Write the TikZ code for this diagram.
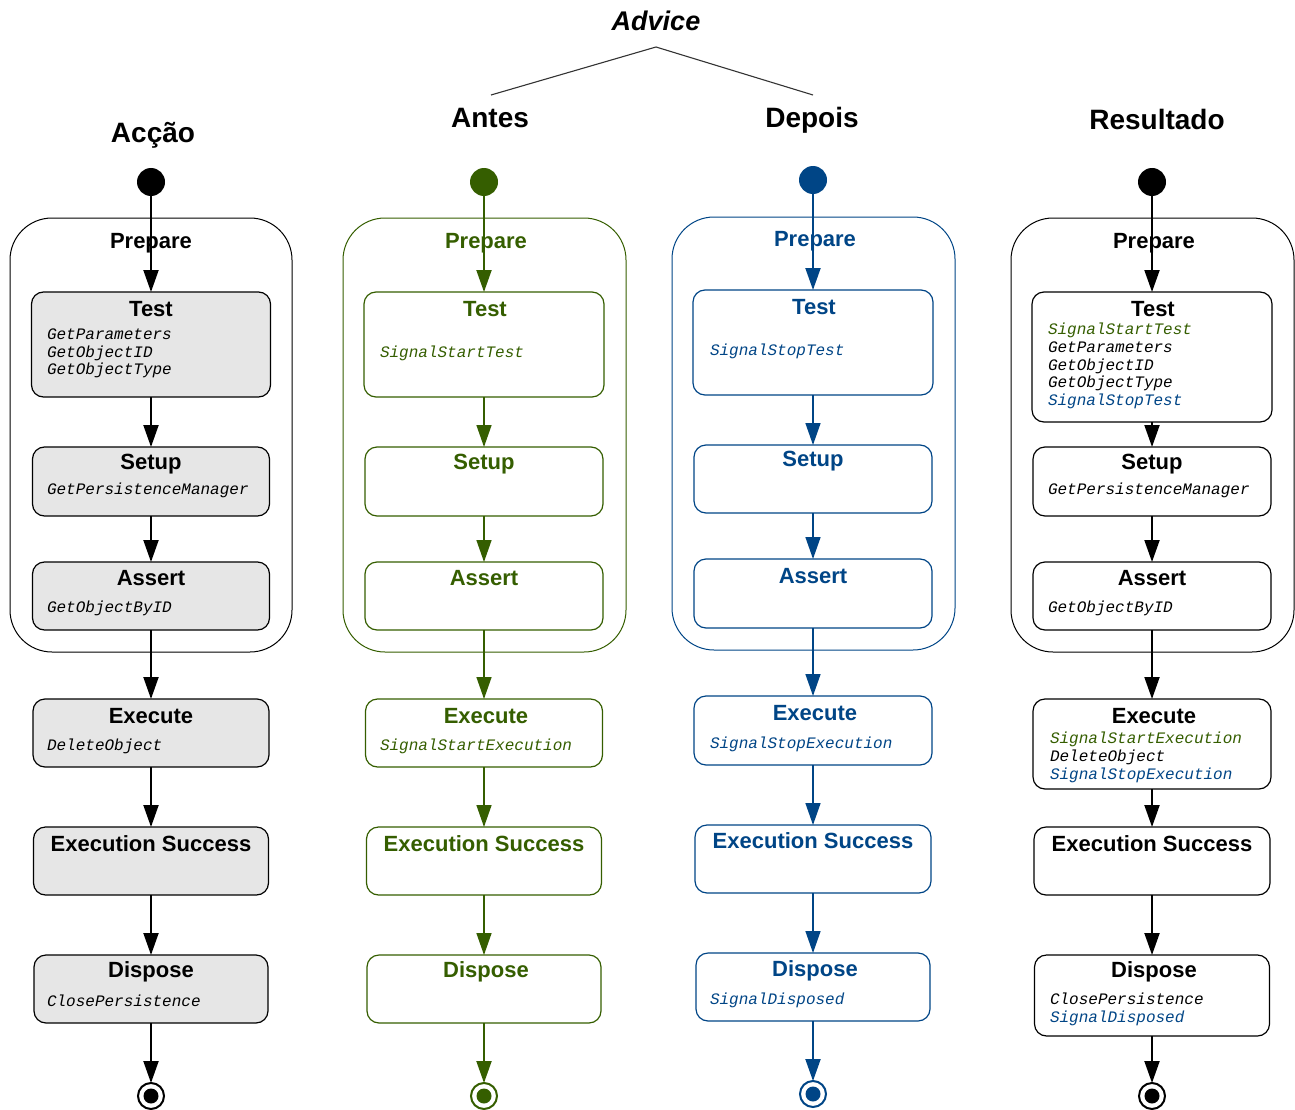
\documentclass[tikz,border=0pt]{standalone}
\usepackage{fontspec}
\setmainfont{Liberation Sans}
\newfontfamily\codefont{Liberation Mono}
\usetikzlibrary{arrows.meta}
\definecolor{advgreen}{HTML}{355E00}
\definecolor{advblue}{HTML}{004586}
\definecolor{boxgray}{HTML}{E6E6E6}

\begin{document}
\begin{tikzpicture}[x=1pt,y=-1pt,
  every node/.style={inner sep=0pt,outer sep=0pt},
  head/.style={font=\fontsize{28}{32}\selectfont\bfseries,anchor=base},
  ttl/.style={font=\fontsize{22}{26}\selectfont\bfseries,anchor=base},
  code/.style={font=\codefont\itshape\fontsize{16}{18}\selectfont,anchor=base west},
  frame/.style={draw=#1,line width=1pt,rounded corners=42pt,rectangle},
  state/.style={draw=#1,line width=1.2pt,rounded corners=12pt,rectangle},
  startdot/.style={circle,fill=#1,minimum size=28pt},
  enddot/.style={circle,draw=#1,fill=white,line width=2pt,minimum size=26pt,
    path picture={\fill[#1] (path picture bounding box.center) circle (7.5pt);}},
  flow/.style={draw=#1,line width=2pt,-{Triangle[length=22pt,width=15pt]}},
]
\useasboundingbox (0,0) rectangle (1295,1110);

% ---------- header ----------
\node[font=\fontsize{27}{32}\selectfont\bfseries\itshape,anchor=base] (advice) at (656,31) {Advice};
\coordinate (adv-root) at (656,47);
\coordinate (adv-left) at (491,95);
\coordinate (adv-right) at (813,95);
\draw[line width=1.1pt,black!80] (adv-left) -- (adv-root) -- (adv-right);

\node[head] (h-acc) at (153,143) {Acção};
\node[head] (h-ant) at (490,128) {Antes};
\node[head] (h-dep) at (812,128) {Depois};
\node[head] (h-res) at (1157,130) {Resultado};

% ---------- column: Acção ----------
\node[frame=black,minimum width=282pt,minimum height=434pt] (a-prep) at (151,435) {};
\node[ttl] (a-prep-t) at (151,248) {Prepare};
\node[state=black,fill=boxgray,minimum width=239pt,minimum height=105pt] (a-test) at (151,344.5) {};
\node[state=black,fill=boxgray,minimum width=237pt,minimum height=69pt] (a-setup) at (151,481.5) {};
\node[state=black,fill=boxgray,minimum width=237pt,minimum height=68pt] (a-assert) at (151,596) {};
\node[state=black,fill=boxgray,minimum width=236pt,minimum height=68pt] (a-exec) at (151,733) {};
\node[state=black,fill=boxgray,minimum width=235pt,minimum height=68pt] (a-succ) at (151,861) {};
\node[state=black,fill=boxgray,minimum width=234pt,minimum height=68pt] (a-disp) at (151,989) {};
\node[startdot=black] (a-start) at (151,182) {};
\node[enddot=black] (a-end) at (151,1096) {};

\node[ttl] (a-test-t) at (151,316) {Test};
\node[code] (a-test-1) at (47,339) {GetParameters};
\node[code] (a-test-2) at (47,357) {GetObjectID};
\node[code] (a-test-3) at (47,374) {GetObjectType};
\node[ttl] (a-setup-t) at (151,469) {Setup};
\node[code] (a-setup-1) at (47,494) {GetPersistenceManager};
\node[ttl] (a-assert-t) at (151,585) {Assert};
\node[code] (a-assert-1) at (47,612) {GetObjectByID};
\node[ttl] (a-exec-t) at (151,723) {Execute};
\node[code] (a-exec-1) at (47,750) {DeleteObject};
\node[ttl] (a-succ-t) at (151,851) {Execution Success};
\node[ttl] (a-disp-t) at (151,977) {Dispose};
\node[code] (a-disp-1) at (47,1006) {ClosePersistence};

\draw[flow=black] (a-start) -- (a-test);
\draw[flow=black] (a-test) -- (a-setup);
\draw[flow=black] (a-setup) -- (a-assert);
\draw[flow=black] (a-assert) -- (a-exec);
\draw[flow=black] (a-exec) -- (a-succ);
\draw[flow=black] (a-succ) -- (a-disp);
\draw[flow=black] (a-disp) -- (a-end);

% ---------- column: Antes ----------
\begin{scope}[every node/.append style={text=advgreen}]
\node[frame=advgreen,minimum width=283pt,minimum height=434pt] (b-prep) at (484.5,435) {};
\node[ttl] (b-prep-t) at (486,248) {Prepare};
\node[state=advgreen,fill=white,minimum width=240pt,minimum height=105pt] (b-test) at (484,344.5) {};
\node[state=advgreen,fill=white,minimum width=238pt,minimum height=69pt] (b-setup) at (484,481.5) {};
\node[state=advgreen,fill=white,minimum width=238pt,minimum height=68pt] (b-assert) at (484,596) {};
\node[state=advgreen,fill=white,minimum width=237pt,minimum height=68pt] (b-exec) at (484,733) {};
\node[state=advgreen,fill=white,minimum width=235pt,minimum height=68pt] (b-succ) at (484,861) {};
\node[state=advgreen,fill=white,minimum width=234pt,minimum height=68pt] (b-disp) at (484,989) {};
\node[startdot=advgreen] (b-start) at (484,182) {};
\node[enddot=advgreen] (b-end) at (484,1096) {};

\node[ttl] (b-test-t) at (485,316) {Test};
\node[code] (b-test-1) at (380,357) {SignalStartTest};
\node[ttl] (b-setup-t) at (484,469) {Setup};
\node[ttl] (b-assert-t) at (484,585) {Assert};
\node[ttl] (b-exec-t) at (486,723) {Execute};
\node[code] (b-exec-1) at (380,750) {SignalStartExecution};
\node[ttl] (b-succ-t) at (484,851) {Execution Success};
\node[ttl] (b-disp-t) at (486,977) {Dispose};
\end{scope}

\draw[flow=advgreen] (b-start) -- (b-test);
\draw[flow=advgreen,line width=1.5pt] (b-test) -- (b-setup);
\draw[flow=advgreen,line width=1.5pt] (b-setup) -- (b-assert);
\draw[flow=advgreen,line width=1.5pt] (b-assert) -- (b-exec);
\draw[flow=advgreen,line width=1.5pt] (b-exec) -- (b-succ);
\draw[flow=advgreen,line width=1.5pt] (b-succ) -- (b-disp);
\draw[flow=advgreen] (b-disp) -- (b-end);

% ---------- column: Depois ----------
\begin{scope}[every node/.append style={text=advblue}]
\node[frame=advblue,minimum width=283pt,minimum height=433pt] (c-prep) at (813.5,433.5) {};
\node[ttl] (c-prep-t) at (815,246) {Prepare};
\node[state=advblue,fill=white,minimum width=240pt,minimum height=105pt] (c-test) at (813,342.5) {};
\node[state=advblue,fill=white,minimum width=238pt,minimum height=68pt] (c-setup) at (813,479) {};
\node[state=advblue,fill=white,minimum width=238pt,minimum height=69pt] (c-assert) at (813,593.5) {};
\node[state=advblue,fill=white,minimum width=238pt,minimum height=69pt] (c-exec) at (813,730.5) {};
\node[state=advblue,fill=white,minimum width=236pt,minimum height=68pt] (c-succ) at (813,859) {};
\node[state=advblue,fill=white,minimum width=234pt,minimum height=68pt] (c-disp) at (813,987) {};
\node[startdot=advblue] (c-start) at (813,180) {};
\node[enddot=advblue] (c-end) at (813,1094) {};

\node[ttl] (c-test-t) at (814,314) {Test};
\node[code] (c-test-1) at (710,355) {SignalStopTest};
\node[ttl] (c-setup-t) at (813,466) {Setup};
\node[ttl] (c-assert-t) at (813,583) {Assert};
\node[ttl] (c-exec-t) at (815,720) {Execute};
\node[code] (c-exec-1) at (710,748) {SignalStopExecution};
\node[ttl] (c-succ-t) at (813,848) {Execution Success};
\node[ttl] (c-disp-t) at (815,976) {Dispose};
\node[code] (c-disp-1) at (710,1004) {SignalDisposed};
\end{scope}

\draw[flow=advblue] (c-start) -- (c-test);
\draw[flow=advblue,line width=1.5pt] (c-test) -- (c-setup);
\draw[flow=advblue,line width=1.5pt] (c-setup) -- (c-assert);
\draw[flow=advblue,line width=1.5pt] (c-assert) -- (c-exec);
\draw[flow=advblue,line width=1.5pt] (c-exec) -- (c-succ);
\draw[flow=advblue,line width=1.5pt] (c-succ) -- (c-disp);
\draw[flow=advblue] (c-disp) -- (c-end);

% ---------- column: Resultado ----------
\node[frame=black,minimum width=283pt,minimum height=434pt] (d-prep) at (1152.5,435) {};
\node[ttl] (d-prep-t) at (1154,248) {Prepare};
\node[state=black,fill=white,minimum width=240pt,minimum height=130pt] (d-test) at (1152,357) {};
\node[state=black,fill=white,minimum width=238pt,minimum height=69pt] (d-setup) at (1152,481.5) {};
\node[state=black,fill=white,minimum width=238pt,minimum height=68pt] (d-assert) at (1152,596) {};
\node[state=black,fill=white,minimum width=238pt,minimum height=90pt] (d-exec) at (1152,744) {};
\node[state=black,fill=white,minimum width=236pt,minimum height=68pt] (d-succ) at (1152,861) {};
\node[state=black,fill=white,minimum width=235pt,minimum height=81pt] (d-disp) at (1152,995.5) {};
\node[startdot=black] (d-start) at (1152,182) {};
\node[enddot=black] (d-end) at (1152,1096) {};

\node[ttl] (d-test-t) at (1153,316) {Test};
\node[code,text=advgreen] (d-test-1) at (1048,334) {SignalStartTest};
\node[code] (d-test-2) at (1048,352) {GetParameters};
\node[code] (d-test-3) at (1048,370) {GetObjectID};
\node[code] (d-test-4) at (1048,387) {GetObjectType};
\node[code,text=advblue] (d-test-5) at (1048,405) {SignalStopTest};
\node[ttl] (d-setup-t) at (1152,469) {Setup};
\node[code] (d-setup-1) at (1048,494) {GetPersistenceManager};
\node[ttl] (d-assert-t) at (1152,585) {Assert};
\node[code] (d-assert-1) at (1048,612) {GetObjectByID};
\node[ttl] (d-exec-t) at (1154,723) {Execute};
\node[code,text=advgreen] (d-exec-1) at (1050,743) {SignalStartExecution};
\node[code] (d-exec-2) at (1050,761) {DeleteObject};
\node[code,text=advblue] (d-exec-3) at (1050,779) {SignalStopExecution};
\node[ttl] (d-succ-t) at (1152,851) {Execution Success};
\node[ttl] (d-disp-t) at (1154,977) {Dispose};
\node[code] (d-disp-1) at (1050,1004) {ClosePersistence};
\node[code,text=advblue] (d-disp-2) at (1050,1022) {SignalDisposed};

\draw[flow=black] (d-start) -- (d-test);
\draw[flow=black] (d-test) -- (d-setup);
\draw[flow=black] (d-setup) -- (d-assert);
\draw[flow=black] (d-assert) -- (d-exec);
\draw[flow=black] (d-exec) -- (d-succ);
\draw[flow=black] (d-succ) -- (d-disp);
\draw[flow=black] (d-disp) -- (d-end);
\end{tikzpicture}
\end{document}
